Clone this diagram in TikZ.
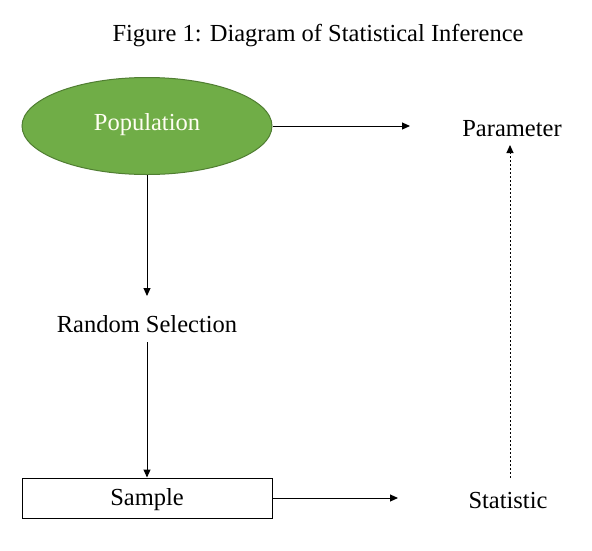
\documentclass[tikz,border=0pt]{standalone}
\usepackage{fontspec}
\setmainfont{Liberation Serif}
\usetikzlibrary{shapes.geometric,arrows.meta}
\definecolor{popgreen}{HTML}{70AD47}
\definecolor{popborder}{HTML}{507E32}
\begin{document}
\begin{tikzpicture}[x=1pt,y=-1pt,
  lbl/.style={inner sep=0pt,font=\fontsize{24.5}{28}\selectfont},
  conn/.style={line width=1pt,-{Triangle[length=8pt,width=7pt]}},
  dotconn/.style={conn,dash pattern=on 2.5pt off 1.5pt}]
\useasboundingbox (0,0) rectangle (592,550);
\node[lbl] (title) at (318,36) {Figure 1: Diagram of Statistical Inference};
\node[ellipse,draw=popborder,line width=1pt,fill=popgreen,minimum width=250pt,minimum height=97pt,inner sep=0pt] (pop) at (147,126) {};
\node[lbl,text=white!95!yellow] (poplbl) at (147,125) {Population};
\node[lbl] (param) at (512,129) {Parameter};
\coordinate (paramin) at (410,126);
\node[lbl] (rand) at (147,324) {Random Selection};
\coordinate (randin) at (147,296);
\coordinate (randout) at (147,342);
\node[draw,line width=1pt,minimum width=250pt,minimum height=40pt,inner sep=0pt] (sample) at (147,498) {};
\node[lbl] (samplelbl) at (147,500) {Sample};
\node[lbl] (stat) at (508,500) {Statistic};
\coordinate (statin) at (398,498);
\coordinate (statout) at (510,478);
\coordinate (paramdown) at (510,145);
\draw[conn] (pop.east) -- (paramin);
\draw[conn] (pop.south) -- (randin);
\draw[conn] (randout) -- (sample.north);
\draw[conn] (sample.east) -- (statin);
\draw[dotconn] (statout) -- (paramdown);
\end{tikzpicture}
\end{document}
